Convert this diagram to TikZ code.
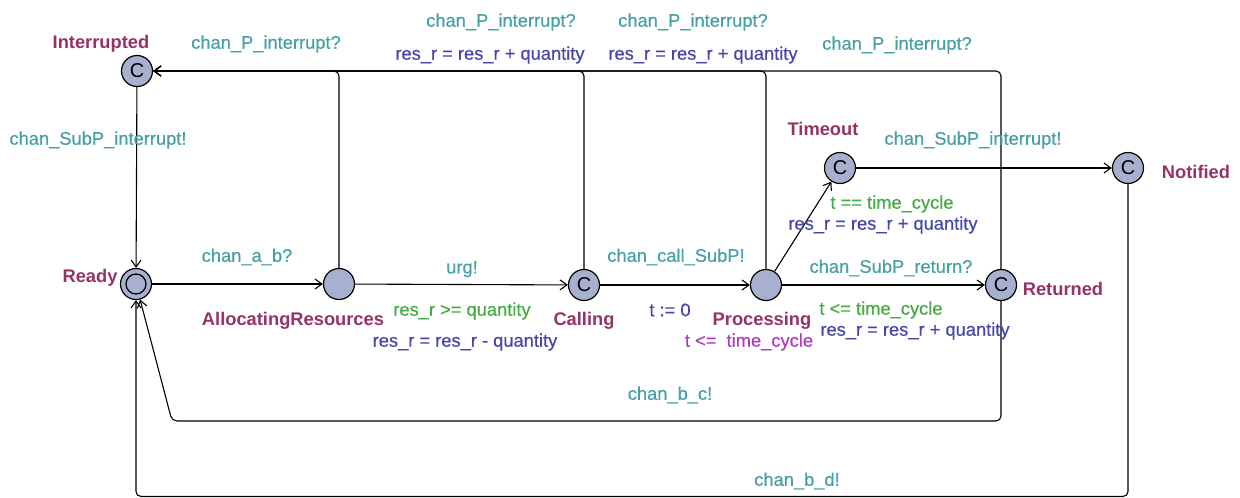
\documentclass[tikz,border=0pt]{standalone}
\usepackage{fontspec}
\setmainfont{Liberation Sans}
\newfontfamily\heavysans[FakeBold=0.5]{Liberation Sans}
\usetikzlibrary{arrows.meta}
\definecolor{locfill}{RGB}{168,176,208}
\definecolor{locname}{RGB}{150,50,100}
\definecolor{syncc}{RGB}{70,160,165}
\definecolor{guardc}{RGB}{70,170,70}
\definecolor{updatec}{RGB}{70,70,170}
\definecolor{invc}{RGB}{175,60,185}
\newcommand{\lblfont}{\heavysans\fontsize{18.3}{20}\selectfont}
\newcommand{\namefont}{\fontsize{18.3}{20}\selectfont\bfseries}
\begin{document}
\begin{tikzpicture}[x=1pt,y=-1pt,
  loc/.style={circle,draw=black,line width=1.2pt,fill=locfill,minimum size=31pt,inner sep=0pt,font=\fontsize{20}{20}\selectfont},
  trans/.style={draw=black,line width=1.1pt,rounded corners=5pt,-{Straight Barb[length=7pt,width=10pt,line width=1.1pt]}},
  lab/.style={inner sep=0pt,font=\lblfont},
  locname/.style={inner sep=0pt,text=locname,font=\namefont},
  sync/.style={lab,text=syncc},
  guard/.style={lab,text=guardc},
  upd/.style={lab,text=updatec},
  inv/.style={lab,text=invc}]
\useasboundingbox (0,0) rectangle (1240,498);

% locations
\node[loc] (Interrupted) at (137,71) {C};
\node[loc] (Ready) at (136,284) {};
\draw[line width=1.2pt] (Ready.center) circle (10pt);
\node[loc] (Alloc) at (339,284) {};
\node[loc] (Calling) at (584,285) {C};
\node[loc] (Processing) at (766,285) {};
\node[loc] (Timeout) at (840,168) {C};
\node[loc] (Notified) at (1128,168) {C};
\node[loc] (Returned) at (1001,285) {C};

% location names
\node[locname] at (101,44) {Interrupted};
\node[locname] at (90,278) {Ready};
\node[locname] at (293,321) {AllocatingResources};
\node[locname] at (584,321) {Calling};
\node[locname] at (762,321) {Processing};
\node[inv] at (749,342) {t <=\ \ time\_cycle};
\node[locname] at (823,129) {Timeout};
\node[locname] at (1196,172) {Notified};
\node[locname] at (1063,289) {Returned};

% transitions
\draw[trans] (Interrupted) -- (Ready);
\draw[trans] (Ready) -- (Alloc);
\draw[trans] (Alloc) -- (Calling);
\draw[trans] (Calling) -- (Processing);
\draw[trans] (Processing) -- (Timeout);
\draw[trans] (Processing) -- (Returned);
\draw[trans] (Timeout) -- (Notified);
\draw[trans] (Alloc) |- (Interrupted);
\draw[trans] (Calling) |- (Interrupted);
\draw[trans] (Processing) |- (Interrupted);
\draw[trans] (Returned) |- (Interrupted);
\coordinate (bcTurn) at (172,421);
\draw[trans] (Returned) |- (bcTurn) -- (Ready);
\coordinate (bdTurn) at (136,496.5);
\draw[trans] (Notified) |- (bdTurn) -- (Ready);

% transition labels
\node[sync] at (98,140) {chan\_SubP\_interrupt!};
\node[sync] at (266,44) {chan\_P\_interrupt?};
\node[sync] at (501,22) {chan\_P\_interrupt?};
\node[upd] at (490,55) {res\_r = res\_r + quantity};
\node[sync] at (693,22) {chan\_P\_interrupt?};
\node[upd] at (703,55) {res\_r = res\_r + quantity};
\node[sync] at (897,45) {chan\_P\_interrupt?};
\node[sync] at (973,140) {chan\_SubP\_interrupt!};
\node[guard] at (892,204) {t == time\_cycle};
\node[upd] at (883,225) {res\_r = res\_r + quantity};
\node[sync] at (891,268) {chan\_SubP\_return?};
\node[guard] at (881,310) {t <= time\_cycle};
\node[upd] at (915,331) {res\_r = res\_r + quantity};
\node[sync] at (247,257) {chan\_a\_b?};
\node[sync] at (462,269) {urg!};
\node[guard] at (462,311) {res\_r >= quantity};
\node[upd] at (465,342) {res\_r = res\_r - quantity};
\node[sync] at (676,257) {chan\_call\_SubP!};
\node[upd] at (670,310) {t := 0};
\node[sync] at (670,395) {chan\_b\_c!};
\node[sync] at (797,481) {chan\_b\_d!};
\end{tikzpicture}
\end{document}
